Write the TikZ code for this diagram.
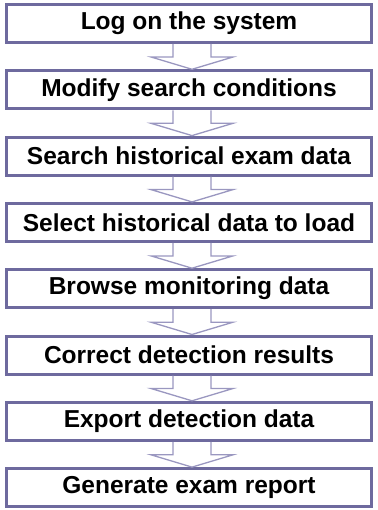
\documentclass[tikz,border=0pt]{standalone}
\usepackage{fontspec}
\setmainfont{Liberation Sans}
\usetikzlibrary{positioning,calc}
\definecolor{boxline}{HTML}{6E6A9E}
\definecolor{arrowline}{HTML}{9A97C0}
\tikzset{stepbox/.style={draw=boxline,line width=3pt,fill=white,minimum width=365pt,minimum height=38pt,inner sep=0pt,font=\fontsize{24.5}{28}\selectfont\bfseries}}

\begin{document}
\begin{tikzpicture}[x=1pt,y=-1pt,node distance=25.3pt,
        flowarrow/.style={draw=arrowline,line width=1.3pt,line join=miter}]
        \useasboundingbox (0,0) rectangle (377,510);
        \node[stepbox] (s1) at (189,23.5) {Log on the system};
        \node[stepbox,below=of s1] (s2) {Modify search conditions};
        \node[stepbox,below=of s2] (s3) {Search historical exam data};
        \node[stepbox,below=of s3] (s4) {Select historical data to load};
        \node[stepbox,below=of s4] (s5) {Browse monitoring data};
        \node[stepbox,below=of s5] (s6) {Correct detection results};
        \node[stepbox,below=of s6] (s7) {Export detection data};
        \node[stepbox,below=of s7] (s8) {Generate exam report};
        % hollow arrows between the steps
        \foreach \a/\b in {s1/s2,s2/s3,s3/s4,s4/s5,s5/s6,s6/s7,s7/s8}
            \draw[flowarrow] ($(\a.south)+(-16,0)$) -- ($(\a.south)+(-16,13)$) -- ($(\a.south)+(-38,13)$)
                -- ($(\b.north)+(3,0)$) -- ($(\a.south)+(44,13)$) -- ($(\a.south)+(22,13)$) -- ($(\a.south)+(22,0)$);
    \end{tikzpicture}
\end{document}
